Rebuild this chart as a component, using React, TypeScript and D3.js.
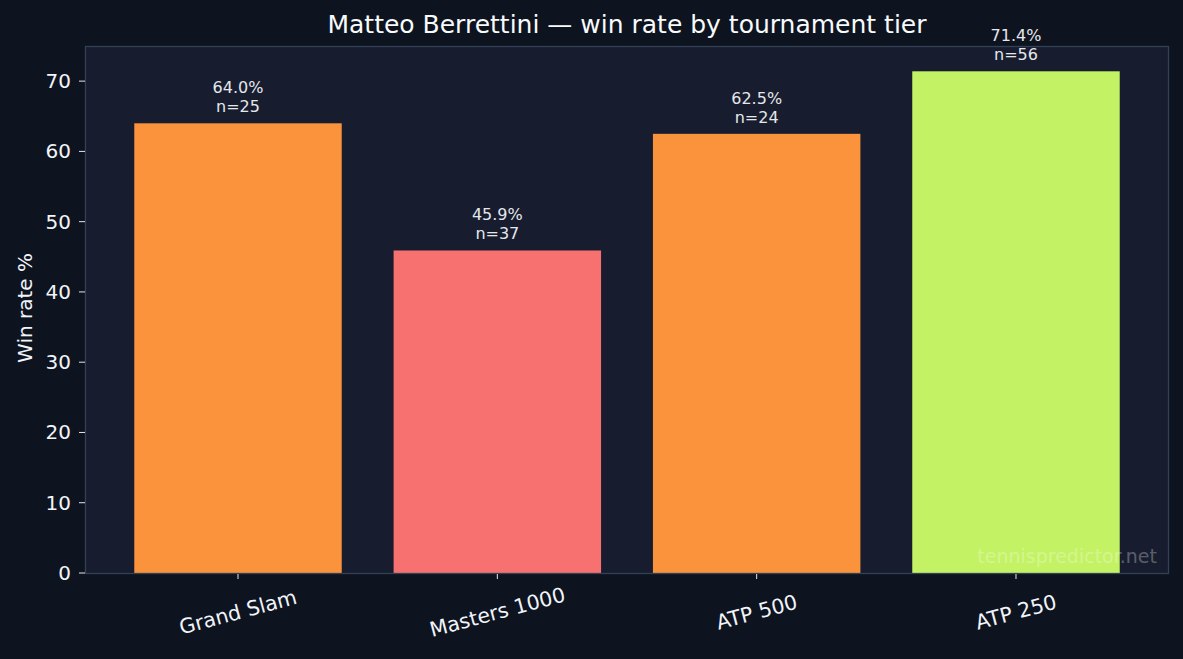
import React from "react";
import * as d3 from "d3";

const categories = ["Grand Slam", "Masters 1000", "ATP 500", "ATP 250"];
const winRates = [64.0, 45.9, 62.5, 71.4];
const matches = [25, 37, 24, 56];
const barColors = ["#fb923c", "#f87171", "#fb923c", "#c3f264"];
const yTicks = [0, 10, 20, 30, 40, 50, 60, 70];

const W = 1183;
const H = 659;
const M = { left: 85, right: 1169, top: 46, bottom: 573 };
const FONT = "DejaVu Sans, sans-serif";

export default function App() {
  const x = d3.scaleLinear().domain([-0.59, 3.59]).range([M.left, M.right]);
  const y = d3.scaleLinear().domain([0, 75]).range([M.bottom, M.top]);
  const bw = x(0.8) - x(0);

  return (
    <svg width={W} height={H} style={{ position: "absolute", left: 0, top: 0, display: "block" }}>
      <rect x={0} y={0} width={W} height={H} fill="#0e1320" />
      <rect x={M.left} y={M.top} width={M.right - M.left} height={M.bottom - M.top} fill="#171d2f" />
      {categories.map((c, i) => (
        <g key={c}>
          <rect
            x={x(i) - bw / 2}
            y={y(winRates[i])}
            width={bw}
            height={y(0) - y(winRates[i])}
            fill={barColors[i]}
          />
          <text x={x(i)} y={y(winRates[i]) - 30} textAnchor="middle" fill="#e5e7eb" fontFamily={FONT} fontSize={16}>
            {winRates[i].toFixed(1) + "%"}
          </text>
          <text x={x(i)} y={y(winRates[i]) - 11} textAnchor="middle" fill="#e5e7eb" fontFamily={FONT} fontSize={16}>
            {"n=" + matches[i]}
          </text>
        </g>
      ))}
      <text x={1157} y={563} textAnchor="end" fill="#ffffff" fillOpacity={0.3} fontFamily={FONT} fontSize={19}>
        tennispredictor.net
      </text>
      <rect
        x={M.left + 0.5}
        y={M.top + 0.5}
        width={M.right - M.left - 1}
        height={M.bottom - M.top}
        fill="none"
        stroke="#334155"
        strokeWidth={1.3}
      />
      {yTicks.map((t) => (
        <g key={t}>
          <line x1={M.left - 6} x2={M.left} y1={y(t)} y2={y(t)} stroke="#e5e7eb" strokeWidth={1} />
          <text x={M.left - 14} y={y(t)} dy="0.35em" textAnchor="end" fill="#f1f5f9" fontFamily={FONT} fontSize={20}>
            {t}
          </text>
        </g>
      ))}
      {categories.map((c, i) => (
        <g key={"xl" + c}>
          <line x1={x(i)} x2={x(i)} y1={M.bottom + 1} y2={M.bottom + 6} stroke="#e5e7eb" strokeWidth={1} />
          <text
            transform={`translate(${x(i)},${612}) rotate(-15)`}
            textAnchor="middle"
            dy="0.35em"
            fill="#f1f5f9"
            fontFamily={FONT}
            fontSize={20.5}
          >
            {c}
          </text>
        </g>
      ))}
      <text
        transform={`translate(32,${308}) rotate(-90)`}
        textAnchor="middle"
        fill="#f1f5f9"
        fontFamily={FONT}
        fontSize={20}
      >
        Win rate %
      </text>
      <text x={627} y={33} textAnchor="middle" fill="#f8fafc" fontFamily={FONT} fontSize={25}>
        Matteo Berrettini — win rate by tournament tier
      </text>
    </svg>
  );
}
